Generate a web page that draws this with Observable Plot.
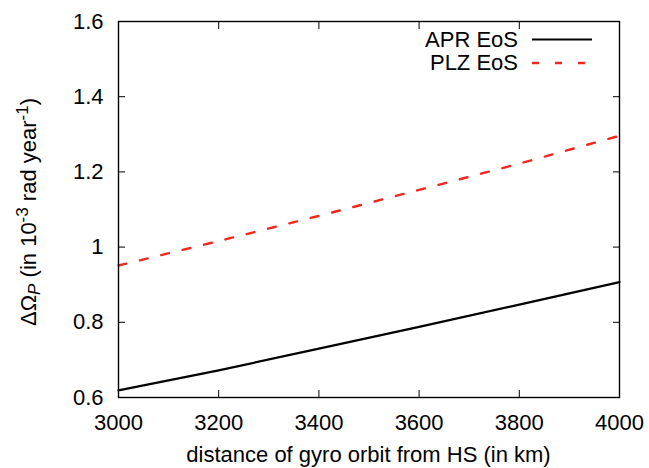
<!DOCTYPE html>
<html>
<head>
<meta charset="utf-8">
<script src="https://cdn.jsdelivr.net/npm/d3@7"></script>
<script src="https://cdn.jsdelivr.net/npm/@observablehq/plot@0.6"></script>
<style>
  html, body { margin: 0; padding: 0; background: #fff; }
  #chart svg { display: block; }
</style>
</head>
<body>
<div id="chart"></div>
<script>
// distance of gyro orbit from HS (km)
const distance = [3000, 3200, 3400, 3600, 3800, 4000];
// ΔΩ_P in 1e-3 rad/year
const aprValues = [0.619, 0.672, 0.730, 0.788, 0.847, 0.907];
const plzValues = [0.951, 1.016, 1.083, 1.152, 1.222, 1.296];
const seriesNames = ["APR EoS", "PLZ EoS"];
const xTicks = [3000, 3200, 3400, 3600, 3800, 4000];
const yTicks = [0.6, 0.8, 1, 1.2, 1.4, 1.6];
const yTickLabels = ["0.6", "0.8", "1", "1.2", "1.4", "1.6"];
const xLabel = "distance of gyro orbit from HS (in km)";

const aprData = distance.map((d, i) => ({x: d, y: aprValues[i]}));
const plzData = distance.map((d, i) => ({x: d, y: plzValues[i]}));

const FONT = "'Liberation Sans', Arial, Helvetica, sans-serif";
const FS = 22;
const RED = "#f0281e";

const plot = Plot.plot({
  width: 649,
  height: 468,
  marginLeft: 118,
  marginRight: 30,
  marginTop: 21,
  marginBottom: 71,
  style: {fontFamily: FONT, fontSize: FS + "px", color: "black", background: "white"},
  x: {domain: [3000, 4000]},
  y: {domain: [0.6, 1.6]},
  marks: [
    Plot.axisX({anchor: "bottom", ticks: xTicks, tickSize: -7, tickPadding: 24, label: null, fontSize: FS,
      tickFormat: d => String(d)}),
    Plot.axisX({anchor: "top", ticks: xTicks, tickSize: -7, tickFormat: () => "", label: null}),
    Plot.axisY({anchor: "left", ticks: yTicks, tickSize: -7, tickPadding: 22, label: null, fontSize: FS,
      tickFormat: d => yTickLabels[yTicks.indexOf(d)]}),
    Plot.axisY({anchor: "right", ticks: yTicks, tickSize: -7, tickFormat: () => "", label: null}),
    Plot.line(aprData, {x: "x", y: "y", stroke: "black", strokeWidth: 2.2}),
    Plot.line(plzData, {x: "x", y: "y", stroke: RED, strokeWidth: 2.4, strokeDasharray: "8,14"}),
    Plot.frame({stroke: "black", strokeWidth: 1.4})
  ]
});

document.getElementById("chart").appendChild(plot);

const svg = d3.select(plot);

// x axis title
svg.append("text")
  .attr("x", 368.5).attr("y", 462)
  .attr("text-anchor", "middle")
  .attr("font-family", FONT).attr("font-size", FS)
  .attr("fill", "black")
  .text(xLabel);

// y axis title with sub/superscripts
const yt = svg.append("text")
  .attr("transform", "translate(36,212) rotate(-90)")
  .attr("text-anchor", "middle")
  .attr("font-family", FONT).attr("font-size", FS)
  .attr("fill", "black");
yt.append("tspan").text("ΔΩ");
yt.append("tspan").attr("baseline-shift", "-25%").attr("font-size", 17).attr("font-style", "italic").text("P");
yt.append("tspan").text(" (in 10");
yt.append("tspan").attr("baseline-shift", "45%").attr("font-size", 17).text("-3");
yt.append("tspan").text(" rad year");
yt.append("tspan").attr("baseline-shift", "45%").attr("font-size", 17).text("-1");
yt.append("tspan").text(")");

// legend
const legend = [
  {name: seriesNames[0], color: "black", dash: null, width: 2.2, ty: 46.5, ly: 39.5},
  {name: seriesNames[1], color: RED, dash: "7,16", width: 2.4, ty: 70, ly: 63}
];
legend.forEach(l => {
  svg.append("text")
    .attr("x", 518).attr("y", l.ty)
    .attr("text-anchor", "end")
    .attr("font-family", FONT).attr("font-size", FS)
    .attr("fill", "black")
    .text(l.name);
  const ln = svg.append("line")
    .attr("x1", 532).attr("x2", 592)
    .attr("y1", l.ly).attr("y2", l.ly)
    .attr("stroke", l.color).attr("stroke-width", l.width);
  if (l.dash) ln.attr("stroke-dasharray", l.dash);
});
</script>
</body>
</html>
